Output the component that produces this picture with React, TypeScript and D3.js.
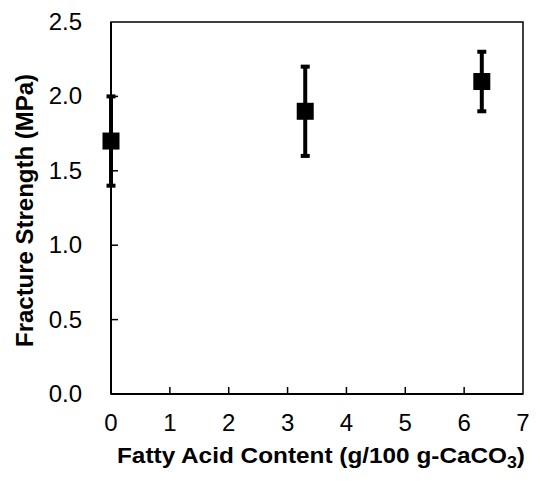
import React from "react";
import * as d3 from "d3";

const contents = [0, 3.3, 6.3];
const strengths = [1.7, 1.9, 2.1];
const errLow = [1.4, 1.6, 1.9];
const errHigh = [2.0, 2.2, 2.3];
const xTicks = [0, 1, 2, 3, 4, 5, 6, 7];
const yTicks = [0, 0.5, 1.0, 1.5, 2.0, 2.5];

const W = 550, H = 485;
const M = { left: 111, right: 523, top: 22, bottom: 394 };

export default function App() {
  const x = d3.scaleLinear().domain([0, 7]).range([M.left, M.right]);
  const y = d3.scaleLinear().domain([0, 2.5]).range([M.bottom, M.top]);
  const font = "'Liberation Sans', Arial, sans-serif";
  const fmt = d3.format(".1f");
  return (
    <svg width={W} height={H} style={{ position: "absolute", left: 0, top: 0 }} fontFamily={font}>
      <rect x={0} y={0} width={W} height={H} fill="#fff" />
      <rect x={M.left} y={M.top} width={M.right - M.left} height={M.bottom - M.top} fill="none" stroke="#000" strokeWidth={1.5} />
      <line x1={M.left} x2={M.left} y1={M.top} y2={M.bottom} stroke="#000" strokeWidth={2} />
      <line x1={M.left} x2={M.right} y1={M.bottom} y2={M.bottom} stroke="#000" strokeWidth={2} />
      {xTicks.map((t) => (
        <g key={"x" + t}>
          {t > 0 && t < 7 && <line x1={x(t)} x2={x(t)} y1={M.bottom} y2={M.bottom - 7} stroke="#000" strokeWidth={1.5} />}
          <text x={x(t)} y={431} fontSize={24} textAnchor="middle">{t}</text>
        </g>
      ))}
      {yTicks.map((t) => (
        <g key={"y" + t}>
          {t > 0 && t < 2.5 && <line x1={M.left} x2={M.left + 7} y1={y(t)} y2={y(t)} stroke="#000" strokeWidth={1.5} />}
          <text x={82} y={y(t) + 8} fontSize={24} textAnchor="end">{fmt(t)}</text>
        </g>
      ))}
      {contents.map((c, i) => (
        <g key={"p" + i}>
          <line x1={x(c)} x2={x(c)} y1={y(errLow[i])} y2={y(errHigh[i])} stroke="#000" strokeWidth={4} />
          <line x1={x(c) - 4.5} x2={x(c) + 4.5} y1={y(errLow[i])} y2={y(errLow[i])} stroke="#000" strokeWidth={4} />
          <line x1={x(c) - 4.5} x2={x(c) + 4.5} y1={y(errHigh[i])} y2={y(errHigh[i])} stroke="#000" strokeWidth={4} />
          <rect x={x(c) - 8.5} y={y(strengths[i]) - 8.5} width={17} height={17} fill="#000" />
        </g>
      ))}
      <text x={117} y={463} fontSize={22} fontWeight="bold" textLength={408} lengthAdjust="spacingAndGlyphs">
        Fatty Acid Content (g/100 g-CaCO<tspan fontSize={16} dy={5}>3</tspan><tspan dy={-5}>)</tspan>
      </text>
      <text transform={`translate(33,347) rotate(-90)`} fontSize={23} fontWeight="bold" textLength={273} lengthAdjust="spacingAndGlyphs">
        Fracture Strength (MPa)
      </text>
    </svg>
  );
}
